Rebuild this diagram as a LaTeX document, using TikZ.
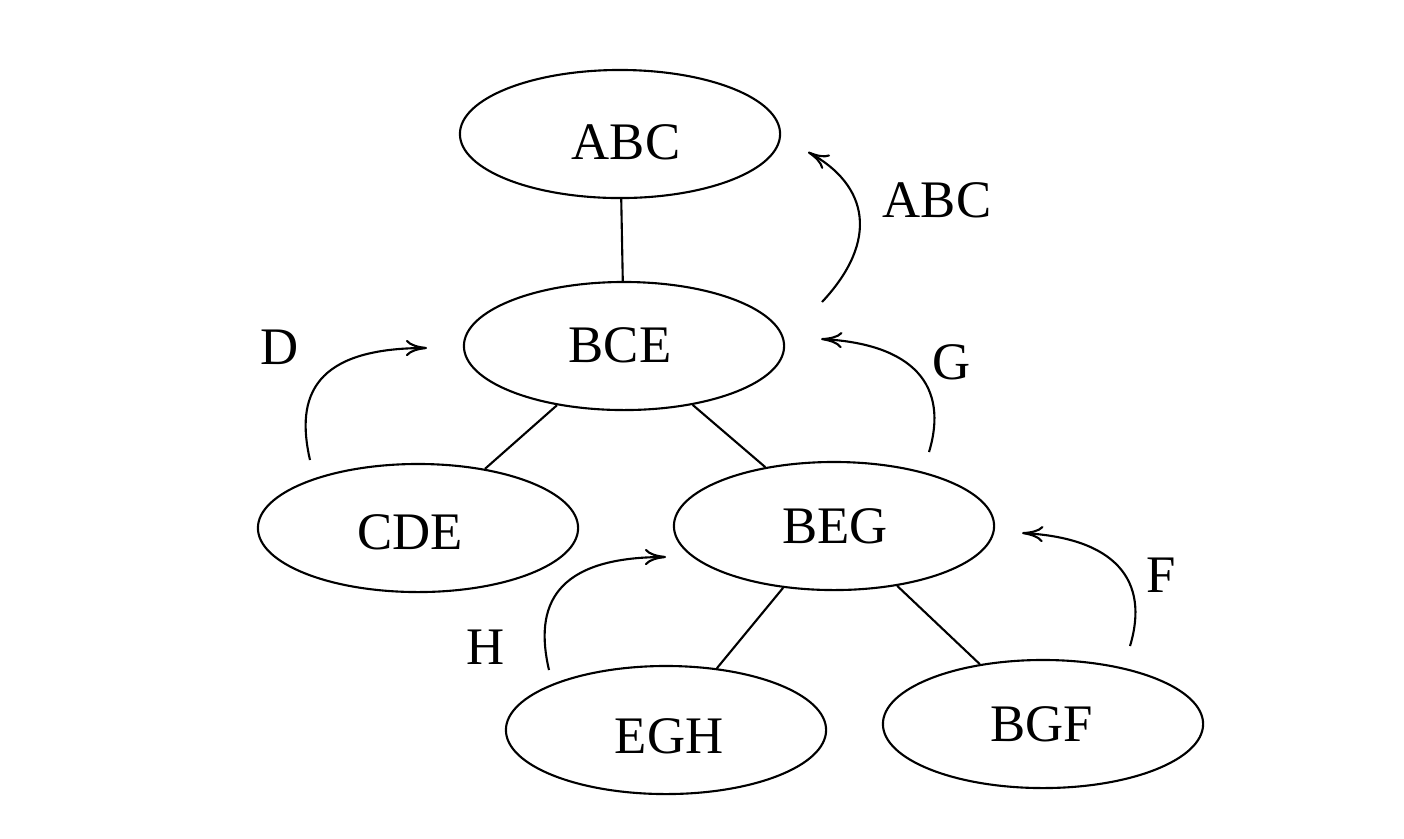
\documentclass[tikz,border=0pt]{standalone}
\usepackage{fontspec}
\setmainfont{Liberation Serif}
\usetikzlibrary{shapes.geometric,arrows.meta}
\begin{document}
\begin{tikzpicture}[x=0.01cm,y=-0.01cm,
  st/.style={draw,ellipse,line width=0.6pt,minimum width=3.2cm,minimum height=1.28cm,inner sep=0pt},
  txt/.style={font=\fontsize{15}{18}\selectfont,inner sep=0pt},
  edge/.style={line width=0.6pt},
  flow/.style={line width=0.6pt,-{To[length=6pt,width=4.6pt]}}]
\useasboundingbox (0,0) rectangle (1404,838);
\node[st,label={[txt,xshift=0.06cm,yshift=-0.08cm]center:ABC}] (abc) at (620,134) {};
\node[st,label={[txt,xshift=-0.04cm,yshift=0.01cm]center:BCE}] (bce) at (624,346) {};
\node[st,label={[txt,xshift=-0.08cm,yshift=-0.04cm]center:CDE}] (cde) at (418,528) {};
\node[st,label={[txt,xshift=0.01cm]center:BEG}] (beg) at (834,526) {};
\node[st,label={[txt,xshift=0.03cm,yshift=-0.06cm]center:EGH}] (egh) at (666,730) {};
\node[st,label={[txt,xshift=-0.01cm]center:BGF}] (bgf) at (1043,724) {};
\draw[edge] (abc) -- (bce);
\draw[edge] (bce) -- (cde);
\draw[edge] (bce) -- (beg);
\draw[edge] (beg) -- (egh);
\draw[edge] (beg) -- (bgf);
\node[txt] (lab) at (937,200) {ABC};
\node[txt] (ld) at (280,347) {D};
\node[txt] (lg) at (952,362) {G};
\node[txt] (lh) at (486,647) {H};
\node[txt] (lf) at (1161,575) {F};
\coordinate (a0) at (822,302); \coordinate (a1) at (808,152);
\coordinate (d0) at (310,460); \coordinate (d1) at (427,348);
\coordinate (h0) at (549,670); \coordinate (h1) at (666,557);
\coordinate (f0) at (1130,646); \coordinate (f1) at (1022,533);
\coordinate (g0) at (929,452); \coordinate (g1) at (821,339);
\draw[flow] (a0) .. controls (880,240) and (868,185) .. (a1);
\draw[flow] (d0) .. controls (295,395) and (315,348) .. (d1);
\draw[flow] (h0) .. controls (534,606) and (554,557) .. (h1);
\draw[flow] (f0) .. controls (1150,580) and (1115,538) .. (f1);
\draw[flow] (g0) .. controls (949,386) and (914,344) .. (g1);
\end{tikzpicture}
\end{document}
